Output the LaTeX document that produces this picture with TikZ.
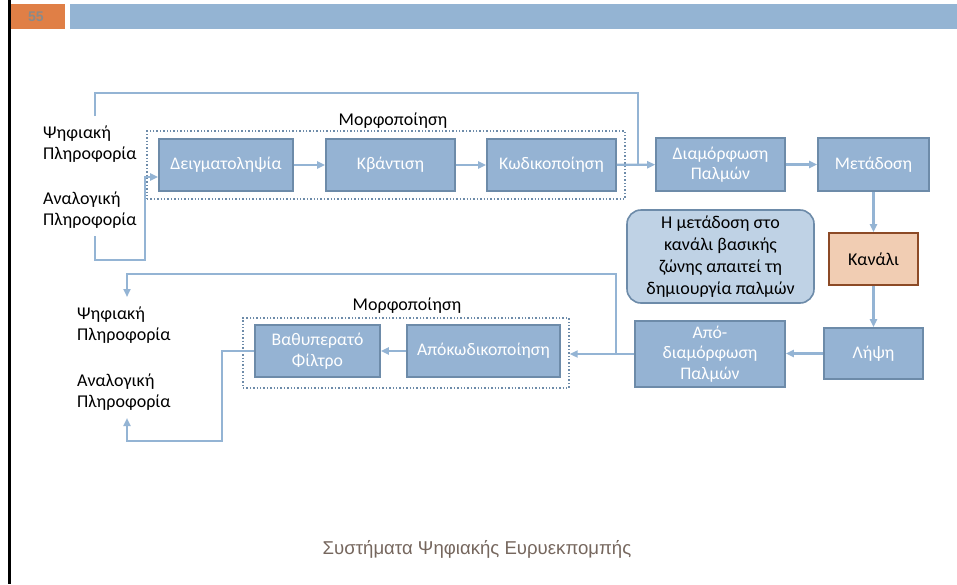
\documentclass[tikz,border=0pt]{standalone}
\usepackage{fontspec}
\setmainfont{Carlito}
\newfontfamily\footfont{Liberation Sans}
\usetikzlibrary{arrows.meta}
\definecolor{lineblue}{HTML}{94B4D4}
\definecolor{boxfill}{HTML}{95B3D3}
\definecolor{boxedge}{HTML}{6D8BA9}
\definecolor{callfill}{HTML}{BFD2E5}
\definecolor{kanfill}{HTML}{F1CDB3}
\definecolor{kanedge}{HTML}{8C4A26}
\definecolor{hdrorange}{HTML}{E07F46}
\definecolor{hdrblue}{HTML}{94B4D3}
\definecolor{footcol}{HTML}{76675E}
\definecolor{pgcol}{HTML}{8A8A8A}
\begin{document}
\begin{tikzpicture}[x=1pt,y=-1pt,
  blk/.style={draw=boxedge, fill=boxfill, line width=1.6pt, text=white, inner sep=0pt, align=center,
     font=\fontsize{17.7}{20.5}\selectfont},
  dotbox/.style={draw=boxedge, dotted, line width=1.4pt, inner sep=0pt},
  lbl/.style={align=left, anchor=west, inner sep=0pt, font=\fontsize{18}{21.5}\selectfont},
  wire/.style={draw=lineblue, line width=2.2pt},
  conn/.style={wire, -{Triangle[length=8pt,width=7pt]}}]
\useasboundingbox (0,0) rectangle (957,584);
\fill[white] (0,0) rectangle (957,584);
% header
\fill[black] (8,0) rectangle (11,584);
\fill[hdrorange] (11,4) rectangle (65,29);
\node[text=pgcol, font=\footfont\bfseries\fontsize{14}{14}\selectfont, inner sep=0pt] (pg) at (36,16.5) {55};
\fill[hdrblue] (70,4) rectangle (957,29);
% dotted groups
\node[dotbox, minimum width=478pt, minimum height=68pt] (m1) at (386,165) {};
\node[font=\fontsize{18}{20}\selectfont, inner sep=0pt] (m1l) at (393,121) {Μορφοποίηση};
\node[dotbox, minimum width=326pt, minimum height=70pt] (m2) at (406,353) {};
\node[font=\fontsize{18}{20}\selectfont, inner sep=0pt] (m2l) at (407,306) {Μορφοποίηση};
% blocks
\node[blk, minimum width=134pt, minimum height=52pt] (deig) at (226,165) {Δειγματοληψία};
\node[blk, minimum width=129pt, minimum height=52pt] (kvan) at (390.5,165) {Κβάντιση};
\node[blk, minimum width=129pt, minimum height=52pt] (kod) at (551.5,165) {Κωδικοποίηση};
\node[blk, minimum width=129pt, minimum height=53pt] (diam) at (720.5,164.5) {Διαμόρφωση\\Παλμών};
\node[blk, minimum width=111pt, minimum height=53pt] (meta) at (873.5,164.5) {Μετάδοση};
\node[draw=boxedge, fill=callfill, line width=1.6pt, rounded corners=14pt, minimum width=187pt, minimum height=93pt,
      align=center, inner sep=0pt, font=\fontsize{18}{22}\selectfont] (call) at (720.5,256.5)
      {Η μετάδοση στο\\κανάλι βασικής\\ζώνης απαιτεί τη\\δημιουργία παλμών};
\node[draw=kanedge, fill=kanfill, line width=1.6pt, minimum width=89pt, minimum height=52pt, inner sep=0pt,
      font=\fontsize{18}{20}\selectfont] (kan) at (873.5,259) {Κανάλι};
\node[blk, minimum width=99pt, minimum height=51pt] (lipsi) at (873.5,353.5) {Λήψη};
\node[blk, minimum width=150pt, minimum height=66pt] (apodiam) at (710,354) {Από-\\διαμόρφωση\\Παλμών};
\node[blk, minimum width=153pt, minimum height=52pt] (apokod) at (483.5,351) {Απόκωδικοποίηση};
\node[blk, minimum width=125pt, minimum height=52pt] (vath) at (317.5,351) {Βαθυπερατό\\Φίλτρο};
% side labels
\node[lbl] (psiT) at (43,144) {Ψηφιακή\\Πληροφορία};
\node[lbl] (anaT) at (43,210) {Αναλογική\\Πληροφορία};
\node[lbl] (psiB) at (77,325) {Ψηφιακή\\Πληροφορία};
\node[lbl] (anaB) at (77,392) {Αναλογική\\Πληροφορία};
% footer
\node[text=footcol, font=\footfont\fontsize{18.6}{20}\selectfont] (foot) at (477,549) {Συστήματα Ψηφιακής Ευρυεκπομπής};
% coordinates
\coordinate (ps0) at (95,116);
\coordinate (an0) at (95,236);
\coordinate (jn) at (638,165);
\coordinate (br) at (616,354);
\coordinate (psiIn) at (127,297);
\coordinate (anaIn) at (127,418);
% connectors
\draw[wire] (ps0) -- (95,93) -| (jn);
\draw[conn] (an0) -- (95,260) -- (145,260) -- (145,177) -- ([yshift=-12pt]deig.west);
\draw[conn] (deig) -- (kvan);
\draw[conn] (kvan) -- (kod);
\draw[conn] (kod) -- (diam);
\draw[conn] (diam) -- (meta);
\draw[conn] (meta) -- (kan);
\draw[conn] (kan) -- (lipsi);
\draw[conn] (lipsi.west) -- (lipsi.west -| apodiam.east);
\draw[conn] (apodiam.west) -- (apodiam.west -| m2.east);
\draw[conn] (br) -- (616,274) -| (psiIn);
\draw[conn] (apokod) -- (vath);
\draw[conn] (vath.west) -- (222,351) -- (222,441) -| (anaIn);
\end{tikzpicture}
\end{document}
